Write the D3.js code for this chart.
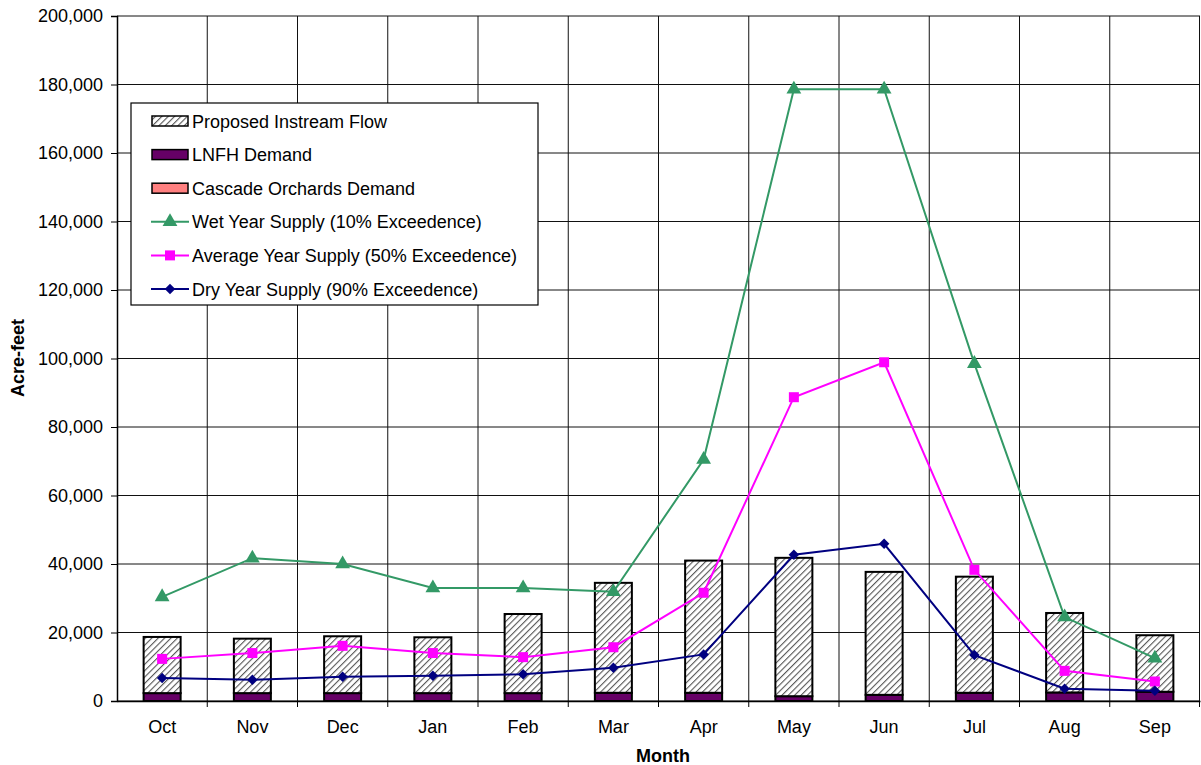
<!DOCTYPE html>
<html lang="en">
<head>
  <meta charset="utf-8">
  <title>Monthly Supply and Demand</title>
  <script src="https://d3js.org/d3.v7.min.js"></script>
  <style>
    body { margin: 0; background: #fff; }
    svg { font-family: "Liberation Sans", Arial, sans-serif; }
    .tick text { font-size: 18px; fill: #000; }
  </style>
</head>
<body>
<svg id="chart" width="1201" height="765"></svg>
<script>
  // data (acre-feet)
  const months = ["Oct","Nov","Dec","Jan","Feb","Mar","Apr","May","Jun","Jul","Aug","Sep"];
  const lnfhDemand = [2300, 2300, 2300, 2300, 2300, 2400, 2400, 1400, 1800, 2400, 2500, 2700];
  const cascadeDemand = [0, 0, 0, 0, 0, 0, 0, 0, 0, 0, 0, 0];
  const instreamFlow = [16400, 15900, 16600, 16300, 23100, 32100, 38600, 40400, 35900, 33900, 23200, 16500];
  const wetSupply = [30400, 41700, 40000, 33000, 33000, 31900, 70500, 178600, 178600, 98500, 24500, 12500];
  const avgSupply = [12300, 14000, 16100, 14000, 12800, 15700, 31600, 88700, 98900, 38300, 8800, 5700];
  const drySupply = [6700, 6200, 7100, 7400, 7800, 9700, 13600, 42700, 45900, 13400, 3600, 3000];
  const yTicks = [0, 20000, 40000, 60000, 80000, 100000, 120000, 140000, 160000, 180000, 200000];

  const svg = d3.select("#chart");
  const plotLeft = 117, plotRight = 1200, plotTop = 16, plotBottom = 701;

  const x = d3.scaleBand().domain(months).range([plotLeft, plotRight]).paddingInner(0).paddingOuter(0);
  const y = d3.scaleLinear().domain([0, 200000]).range([plotBottom, plotTop]);
  const barW = x.bandwidth() * 0.41;
  const cx = m => x(m) + x.bandwidth() / 2;

  // hatch pattern for instream flow
  const defs = svg.append("defs");
  const pat = defs.append("pattern")
    .attr("id", "hatch")
    .attr("patternUnits", "userSpaceOnUse")
    .attr("width", 4.5).attr("height", 4.5)
    .attr("patternTransform", "rotate(45)");
  pat.append("rect").attr("width", 4.5).attr("height", 4.5).attr("fill", "#fff");
  pat.append("line").attr("x1", 0).attr("y1", 0).attr("x2", 0).attr("y2", 4.5)
    .attr("stroke", "#555").attr("stroke-width", 2.2);

  // horizontal gridlines
  svg.append("g").selectAll("line")
    .data(yTicks)
    .enter().append("line")
    .attr("x1", plotLeft).attr("x2", plotRight)
    .attr("y1", d => y(d)).attr("y2", d => y(d))
    .attr("stroke", "#111").attr("stroke-width", 1);

  // vertical gridlines at category boundaries
  svg.append("g").selectAll("line")
    .data(months.slice(1))
    .enter().append("line")
    .attr("x1", d => x(d)).attr("x2", d => x(d))
    .attr("y1", plotTop).attr("y2", plotBottom)
    .attr("stroke", "#111").attr("stroke-width", 1);
  svg.append("line").attr("x1", plotRight - 0.5).attr("x2", plotRight - 0.5)
    .attr("y1", plotTop).attr("y2", plotBottom).attr("stroke", "#111");

  // stacked bars
  const stackRows = months.map((m, i) => ({ m, lnfh: lnfhDemand[i], cascade: cascadeDemand[i], instream: instreamFlow[i] }));
  const series = d3.stack().keys(["lnfh", "cascade", "instream"])(stackRows);
  const fills = { lnfh: "#660066", cascade: "#ff8080", instream: "url(#hatch)" };

  series.forEach(s => {
    svg.append("g").selectAll("rect")
      .data(s.filter(d => d[1] > d[0]))
      .enter().append("rect")
      .attr("x", d => cx(d.data.m) - barW / 2)
      .attr("width", barW)
      .attr("y", d => y(d[1]))
      .attr("height", d => y(d[0]) - y(d[1]))
      .attr("fill", fills[s.key])
      .attr("stroke", "#000")
      .attr("stroke-width", 2);
  });

  // axes
  const yAxis = svg.append("g")
    .attr("transform", `translate(${plotLeft},0)`)
    .call(d3.axisLeft(y).tickValues(yTicks).tickSize(6).tickPadding(8).tickFormat(d3.format(",")));
  yAxis.select(".domain").attr("stroke", "#000").attr("stroke-width", 1.5);

  const xAxis = svg.append("g")
    .attr("transform", `translate(0,${plotBottom})`)
    .call(d3.axisBottom(x).tickSize(0).tickPadding(19));
  xAxis.select(".domain").attr("stroke", "#000").attr("stroke-width", 1.5);
  xAxis.selectAll(".boundary")
    .data(months.slice(1).concat(["end"]))
    .enter().append("line")
    .attr("x1", d => d === "end" ? plotRight - 0.5 : x(d))
    .attr("x2", d => d === "end" ? plotRight - 0.5 : x(d))
    .attr("y1", 0).attr("y2", 6).attr("stroke", "#000");

  // supply lines (diamond = square turned 45 degrees)
  const lineDefs = [
    { name: "Wet Year Supply (10% Exceedence)", values: wetSupply, color: "#339966", shape: d3.symbolTriangle, size: 95, rot: 0 },
    { name: "Average Year Supply (50% Exceedence)", values: avgSupply, color: "#ff00ff", shape: d3.symbolSquare, size: 100, rot: 0 },
    { name: "Dry Year Supply (90% Exceedence)", values: drySupply, color: "#000080", shape: d3.symbolSquare, size: 55, rot: 45 }
  ];
  const line = d3.line().x((d, i) => cx(months[i])).y(d => y(d));

  lineDefs.forEach(s => {
    svg.append("path")
      .datum(s.values)
      .attr("fill", "none")
      .attr("stroke", s.color)
      .attr("stroke-width", 2)
      .attr("d", line);
    svg.append("g").selectAll("path")
      .data(s.values)
      .enter().append("path")
      .attr("transform", (d, i) => `translate(${cx(months[i])},${y(d)}) rotate(${s.rot})`)
      .attr("d", d3.symbol().type(s.shape).size(s.size))
      .attr("fill", s.color);
  });

  // axis titles
  svg.append("text")
    .attr("x", 663).attr("y", 762)
    .attr("text-anchor", "middle")
    .style("font-size", "18px").style("font-weight", "bold")
    .text("Month");
  svg.append("text")
    .attr("transform", "translate(24,358) rotate(-90)")
    .attr("text-anchor", "middle")
    .style("font-size", "18px").style("font-weight", "bold")
    .text("Acre-feet");

  // legend
  const legend = svg.append("g").attr("transform", "translate(131,103)");
  legend.append("rect")
    .attr("width", 407).attr("height", 202)
    .attr("fill", "#fff").attr("stroke", "#000").attr("stroke-width", 1.2);

  const legendItems = [
    { name: "Proposed Instream Flow", type: "bar", fill: "url(#hatch)" },
    { name: "LNFH Demand", type: "bar", fill: "#660066" },
    { name: "Cascade Orchards Demand", type: "bar", fill: "#ff8080" }
  ].concat(lineDefs.map(s => ({ name: s.name, type: "line", color: s.color, shape: s.shape, size: s.size, rot: s.rot })));

  legendItems.forEach((d, i) => {
    const g = legend.append("g").attr("transform", `translate(0,${18 + i * 33.6})`);
    if (d.type === "bar") {
      g.append("rect").attr("x", 21).attr("y", -5).attr("width", 36).attr("height", 10)
        .attr("fill", d.fill).attr("stroke", "#000").attr("stroke-width", 1.5);
    } else {
      g.append("line").attr("x1", 20).attr("x2", 58).attr("y1", 0).attr("y2", 0)
        .attr("stroke", d.color).attr("stroke-width", 2);
      g.append("path").attr("transform", `translate(39,0) rotate(${d.rot})`)
        .attr("d", d3.symbol().type(d.shape).size(d.size)).attr("fill", d.color);
    }
    g.append("text").attr("x", 61).attr("y", 6.5)
      .style("font-size", "18px")
      .text(d.name);
  });
</script>
</body>
</html>
